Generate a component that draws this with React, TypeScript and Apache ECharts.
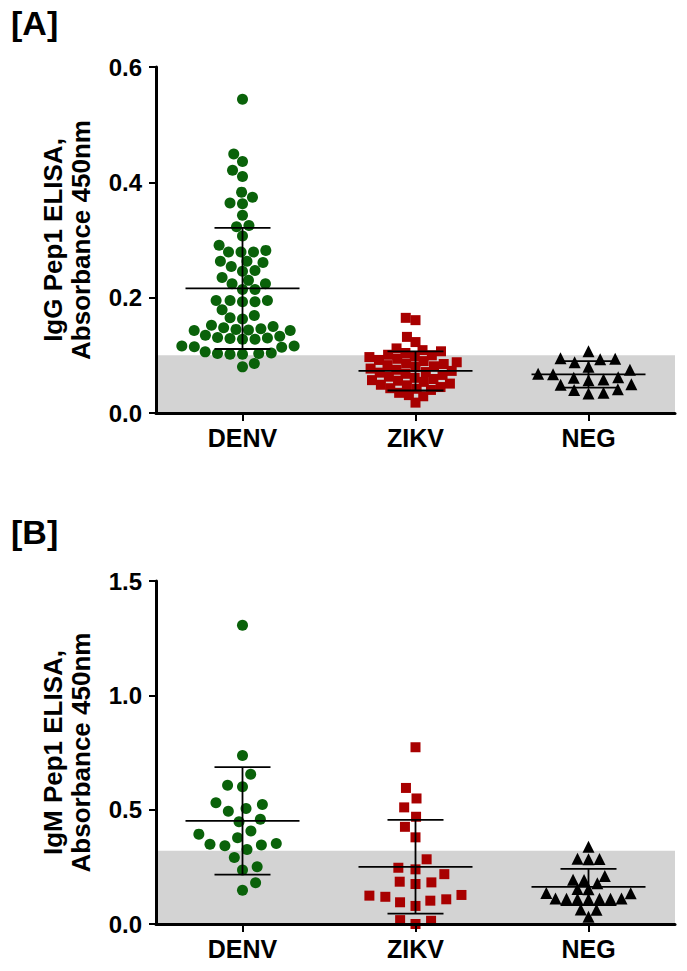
import React, { useEffect, useRef } from "react";
import * as echarts from "echarts";

const categories = ["DENV", "ZIKV", "NEG"];

const igGDenv = [
  0.544, 0.449, 0.436, 0.421, 0.41, 0.383, 0.374, 0.364, 0.363, 0.343, 0.325, 0.323, 0.307, 0.291, 0.282, 0.279,
  0.279, 0.279, 0.263, 0.263, 0.261, 0.254, 0.247, 0.246, 0.235, 0.23, 0.224, 0.224, 0.214, 0.214, 0.195, 0.195,
  0.195, 0.193, 0.193, 0.179, 0.169, 0.165, 0.163, 0.143, 0.143, 0.144, 0.145, 0.146, 0.148, 0.15, 0.152, 0.128,
  0.128, 0.129, 0.13, 0.131, 0.133, 0.135, 0.116, 0.115, 0.114, 0.116, 0.102, 0.102, 0.103, 0.103, 0.104, 0.106,
  0.086, 0.08,
];
const igGZikv = [
  0.165, 0.161, 0.132, 0.123, 0.112, 0.109, 0.107, 0.104, 0.101, 0.1, 0.098, 0.097, 0.094, 0.092, 0.09, 0.088,
  0.086, 0.085, 0.083, 0.081, 0.08, 0.077, 0.075, 0.073, 0.071, 0.07, 0.068, 0.066, 0.063, 0.061, 0.059, 0.057,
  0.056, 0.054, 0.051, 0.049, 0.048, 0.045, 0.043, 0.042, 0.04, 0.035, 0.031, 0.029, 0.018,
];
const igGNeg = [
  0.107, 0.094, 0.095, 0.093, 0.088, 0.08, 0.075, 0.067, 0.068, 0.062, 0.061, 0.057, 0.058, 0.049, 0.05, 0.04,
  0.041, 0.034, 0.035,
];
const igMDenv = [
  1.306, 0.737, 0.655, 0.607, 0.6, 0.523, 0.53, 0.493, 0.505, 0.447, 0.458, 0.407, 0.393, 0.377, 0.352, 0.345,
  0.342, 0.349, 0.326, 0.291, 0.25, 0.236, 0.18, 0.148,
];
const igMZikv = [
  0.773, 0.595, 0.549, 0.51, 0.469, 0.425, 0.379, 0.283, 0.239, 0.246, 0.218, 0.185, 0.175, 0.182, 0.124, 0.108,
  0.119, 0.127, 0.095, 0.102, 0.079, 0.017, 0.014, 0.0,
];
const igMNeg = [
  0.338, 0.284, 0.285, 0.283, 0.192, 0.178, 0.193, 0.21, 0.152, 0.153, 0.135, 0.136, 0.11, 0.111, 0.109, 0.11,
  0.112, 0.108, 0.11, 0.062, 0.063, 0.032,
];

const meansA = [0.216, 0.073, 0.067];
const sdsA = [0.105, 0.034, 0.023];
const meansB = [0.451, 0.25, 0.162];
const sdsB = [0.235, 0.205, 0.079];

const thresholdA = 0.1;
const thresholdB = 0.32;

const yMaxA = 0.6;
const yStepA = 0.2;
const yMaxB = 1.5;
const yStepB = 0.5;

const W = 687;
const H = 971;
const GRID_LEFT = 156;
const GRID_RIGHT = 12;
const A_TOP = 67;
const A_BOTTOM = 413;
const B_TOP = 581;
const B_BOTTOM = 924;

const GREEN = "#0a620a";
const RED = "#a80000";
const BLACK = "#000000";
const FONT = "'Liberation Sans', Arial, sans-serif";

// swarm layout spacing (px): [horizontal, vertical reach] for each group
const SPACING_A: [number, number][] = [[12.5, 10.5], [10, 10], [15, 12]];
const SPACING_B: [number, number][] = [[15, 15], [16, 14], [11, 10]];

function swarm(values: number[], pxY: number, pxX: number, sx: number, sy: number): number[] {
  const idx = values.map((_, i) => i).sort((a, b) => values[a] - values[b]);
  const placed: { x: number; y: number }[] = [];
  const out = new Array(values.length).fill(0);
  let flip = 1;
  for (const i of idx) {
    const y = values[i] * pxY;
    const intervals: [number, number][] = [];
    for (const p of placed) {
      const dy = Math.abs(p.y - y);
      if (dy < sy) {
        const dx = sx * Math.sqrt(1 - (dy / sy) * (dy / sy));
        intervals.push([p.x - dx, p.x + dx]);
      }
    }
    const cands = [0];
    intervals.forEach(([a, b]) => cands.push(a, b));
    cands.sort((a, b) => Math.abs(a) - Math.abs(b) || (a - b) * flip);
    let x = 0;
    for (const c of cands) {
      if (intervals.every(([a, b]) => c <= a + 1e-6 || c >= b - 1e-6)) {
        x = c;
        break;
      }
    }
    flip = -flip;
    placed.push({ x, y });
    out[i] = x / pxX;
  }
  return out;
}

export default function App() {
  const ref = useRef<HTMLDivElement>(null);
  useEffect(() => {
    if (!ref.current) return;
    const chart = echarts.init(ref.current, undefined, { renderer: "svg" });
    const plotW = W - GRID_LEFT - GRID_RIGHT;
    const pxX = plotW / 3;
    const pxYA = (A_BOTTOM - A_TOP) / yMaxA;
    const pxYB = (B_BOTTOM - B_TOP) / yMaxB;

    const groupsA = [igGDenv, igGZikv, igGNeg];
    const groupsB = [igMDenv, igMZikv, igMNeg];
    const symbols = ["circle", "rect", "triangle"];
    const sizes = [11, 10, 12];
    const colors = [GREEN, RED, BLACK];

    const makeScatter = (groups: number[][], pxY: number, gi: number, spacing: [number, number][]) =>
      groups.map((vals, k) => {
        const off = swarm(vals, pxY, pxX, spacing[k][0], spacing[k][1]);
        return {
          type: "scatter",
          xAxisIndex: gi * 2 + 1,
          yAxisIndex: gi,
          symbol: symbols[k],
          symbolSize: sizes[k],
          itemStyle: { color: colors[k], opacity: 1 },
          z: 3,
          data: vals.map((v, i) => [k + 0.5 + off[i], v]),
        };
      });

    const bandSeries = (threshold: number, gi: number) => ({
      type: "custom",
      xAxisIndex: gi * 2 + 1,
      yAxisIndex: gi,
      z: 1,
      silent: true,
      data: [[0, threshold]],
      renderItem: (params: any, api: any) => {
        const p0 = api.coord([0, 0]);
        const p1 = api.coord([3, api.value(1)]);
        return {
          type: "rect",
          shape: { x: p0[0], y: p1[1], width: p1[0] - p0[0], height: p0[1] - p1[1] },
          style: { fill: "#d3d3d3" },
        };
      },
    });

    const errSeries = (means: number[], sds: number[], gi: number) => ({
      type: "custom",
      xAxisIndex: gi * 2 + 1,
      yAxisIndex: gi,
      z: 5,
      silent: true,
      data: means.map((m, k) => [k + 0.5, m, sds[k]]),
      renderItem: (params: any, api: any) => {
        const x = api.value(0);
        const m = api.value(1);
        const s = api.value(2);
        const c = api.coord([x, m]);
        const t = api.coord([x, m + s]);
        const b = api.coord([x, m - s]);
        const st = { stroke: "#000", lineWidth: 1.8 };
        return {
          type: "group",
          children: [
            { type: "line", shape: { x1: c[0] - 57, y1: c[1], x2: c[0] + 57, y2: c[1] }, style: st },
            { type: "line", shape: { x1: t[0], y1: t[1], x2: b[0], y2: b[1] }, style: st },
            { type: "line", shape: { x1: t[0] - 28, y1: t[1], x2: t[0] + 28, y2: t[1] }, style: st },
            { type: "line", shape: { x1: b[0] - 28, y1: b[1], x2: b[0] + 28, y2: b[1] }, style: st },
          ],
        };
      },
    });

    const catAxis = (gi: number) => ({
      type: "category",
      gridIndex: gi,
      data: categories,
      boundaryGap: true,
      axisLine: { show: true, lineStyle: { color: "#000", width: 3 } },
      axisTick: { show: true, alignWithLabel: true, length: 8, lineStyle: { color: "#000", width: 2 } },
      axisLabel: { color: "#000", fontFamily: FONT, fontWeight: "bold", fontSize: 25, margin: 12 },
      splitLine: { show: false },
      z: 6,
    });
    const valXAxis = (gi: number) => ({
      type: "value",
      gridIndex: gi,
      min: 0,
      max: 3,
      show: false,
    });
    const yAxis = (gi: number, max: number, step: number, name: string) => ({
      type: "value",
      gridIndex: gi,
      min: 0,
      max,
      interval: step,
      name,
      nameLocation: "middle",
      nameGap: 61,
      nameTextStyle: { color: "#000", fontFamily: FONT, fontWeight: "bold", fontSize: 26, lineHeight: 28 },
      axisLine: { show: true, lineStyle: { color: "#000", width: 3 } },
      axisTick: { show: true, length: 7, lineStyle: { color: "#000", width: 2 } },
      axisLabel: {
        color: "#000",
        fontFamily: FONT,
        fontWeight: "bold",
        fontSize: 24,
        margin: 14,
        formatter: (v: number) => v.toFixed(1),
      },
      splitLine: { show: false },
      z: 6,
    });

    chart.setOption({
      animation: false,
      backgroundColor: "#fff",
      grid: [
        { left: GRID_LEFT, right: GRID_RIGHT, top: A_TOP, bottom: H - A_BOTTOM },
        { left: GRID_LEFT, right: GRID_RIGHT, top: B_TOP, bottom: H - B_BOTTOM },
      ],
      xAxis: [catAxis(0), valXAxis(0), catAxis(1), valXAxis(1)],
      yAxis: [
        yAxis(0, yMaxA, yStepA, "IgG Pep1 ELISA,\nAbsorbance 450nm"),
        yAxis(1, yMaxB, yStepB, "IgM Pep1 ELISA,\nAbsorbance 450nm"),
      ],
      graphic: [
        {
          type: "text",
          left: 11,
          top: 6,
          style: { text: "[A]", fontFamily: FONT, fontWeight: "bold", fontSize: 34, fill: "#000" },
        },
        {
          type: "text",
          left: 11,
          top: 515,
          style: { text: "[B]", fontFamily: FONT, fontWeight: "bold", fontSize: 34, fill: "#000" },
        },
      ],
      series: [
        bandSeries(thresholdA, 0),
        ...makeScatter(groupsA, pxYA, 0, SPACING_A),
        errSeries(meansA, sdsA, 0),
        bandSeries(thresholdB, 1),
        ...makeScatter(groupsB, pxYB, 1, SPACING_B),
        errSeries(meansB, sdsB, 1),
      ],
    });
    return () => chart.dispose();
  }, []);
  return <div ref={ref} style={{ width: W, height: H, position: "absolute", left: 0, top: 0 }} />;
}
